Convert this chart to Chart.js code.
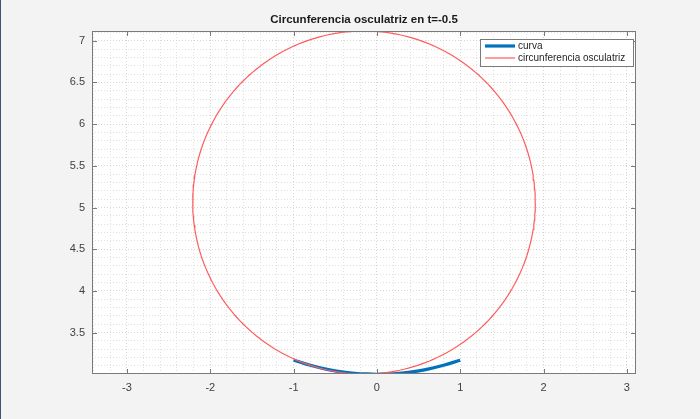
<!DOCTYPE html>
<html>
<head>
<meta charset="utf-8">
<script src="https://cdn.jsdelivr.net/npm/chart.js@4.4.1/dist/chart.umd.min.js"></script>
<style>
html,body{margin:0;padding:0;background:#f3f3f3;}
#wrap{position:relative;width:700px;height:419px;}
</style>
</head>
<body>
<div id="wrap"><canvas id="c" width="700" height="419"></canvas></div>
<script>
// ---- data ----
const titleText = "Circunferencia osculatriz en t=-0.5";
const seriesLabels = ["curva", "circunferencia osculatriz"];
const curveX = [-1, -0.8, -0.6, -0.4, -0.2, 0, 0.2, 0.4, 0.6, 0.8, 1];
const curveY = [3.172, 3.108, 3.060, 3.027, 3.007, 3.000, 3.007, 3.027, 3.060, 3.108, 3.170];
const circleCenter = [-0.155, 5.06];
const circleRadius = [2.056];
const xTickLabels = [-3, -2, -1, 0, 1, 2, 3];
const yTickLabels = [3.5, 4, 4.5, 5, 5.5, 6, 6.5, 7];
const xLimits = [-3.42, 3.11];
const yLimits = [3.004, 7.116];

// build datasets
const curvePts = curveX.map((x, i) => ({x: x, y: curveY[i]}));
const circlePts = [];
for (let k = 0; k <= 240; k++) {
  const a = 2 * Math.PI * k / 240;
  circlePts.push({x: circleCenter[0] + circleRadius[0] * Math.cos(a), y: circleCenter[1] + circleRadius[0] * Math.sin(a)});
}

const isMajorX = v => xTickLabels.some(t => Math.abs(t - v) < 1e-6);
const isMajorY = v => yTickLabels.some(t => Math.abs(t - v) < 1e-6);

const deco = {
  id: 'deco',
  beforeDraw(chart) {
    const ctx = chart.ctx;
    ctx.save();
    ctx.fillStyle = '#f3f3f3';
    ctx.fillRect(0, 0, chart.width, chart.height);
    ctx.fillStyle = '#44546e';
    ctx.fillRect(0, 0, 1, chart.height);
    const a = chart.chartArea;
    ctx.fillStyle = '#ffffff';
    ctx.fillRect(a.left, a.top, a.right - a.left, a.bottom - a.top);
    ctx.restore();
  },
  afterDraw(chart) {
    const ctx = chart.ctx;
    const a = chart.chartArea;
    const xs = chart.scales.x, ys = chart.scales.y;
    ctx.save();
    ctx.strokeStyle = '#7a7a7a';
    ctx.lineWidth = 1;
    ctx.strokeRect(Math.round(a.left) + 0.5, Math.round(a.top) + 0.5, Math.round(a.right - a.left) - 1, Math.round(a.bottom - a.top) - 1);
    ctx.beginPath();
    const tl = 5;
    xTickLabels.forEach(v => {
      const px = Math.round(xs.getPixelForValue(v)) + 0.5;
      ctx.moveTo(px, a.bottom); ctx.lineTo(px, a.bottom - tl);
      ctx.moveTo(px, a.top); ctx.lineTo(px, a.top + tl);
    });
    yTickLabels.forEach(v => {
      const py = Math.round(ys.getPixelForValue(v)) + 0.5;
      ctx.moveTo(a.left, py); ctx.lineTo(a.left + tl, py);
      ctx.moveTo(a.right, py); ctx.lineTo(a.right - tl, py);
    });
    ctx.stroke();
    // title
    ctx.fillStyle = '#1a1a1a';
    ctx.font = 'bold 11.5px "Liberation Sans", Arial, sans-serif';
    ctx.textAlign = 'center';
    ctx.textBaseline = 'middle';
    ctx.fillText(titleText, (a.left + a.right) / 2, 20);
    // legend
    const lx = 480, ly = 39, lw = 153, lh = 27;
    ctx.fillStyle = '#ffffff';
    ctx.fillRect(lx, ly, lw, lh);
    ctx.strokeStyle = '#7a7a7a';
    ctx.strokeRect(lx + 0.5, ly + 0.5, lw, lh);
    ctx.font = '10px "Liberation Sans", Arial, sans-serif';
    ctx.textAlign = 'left';
    chart.data.datasets.forEach((ds, i) => {
      const yy = ly + 7 + i * 12;
      ctx.strokeStyle = ds.borderColor;
      ctx.lineWidth = ds.borderWidth;
      ctx.beginPath();
      ctx.moveTo(lx + 5, yy); ctx.lineTo(lx + 35, yy);
      ctx.stroke();
      ctx.fillStyle = '#262626';
      ctx.fillText(ds.label, lx + 38, yy + 0.5);
    });
    ctx.restore();
  }
};

new Chart(document.getElementById('c'), {
  type: 'scatter',
  data: {
    datasets: [
      {label: seriesLabels[0], data: curvePts, showLine: true, borderColor: '#0072BD', borderWidth: 3.2, pointRadius: 0, tension: 0.4, order: 1},
      {label: seriesLabels[1], data: circlePts, showLine: true, borderColor: '#ff5c5c', borderWidth: 1.2, pointRadius: 0, tension: 0, order: 0}
    ]
  },
  options: {
    responsive: false,
    animation: false,
    devicePixelRatio: 1,
    layout: {padding: {left: 0, top: 31, right: 64, bottom: 0}},
    plugins: {legend: {display: false}, tooltip: {enabled: false}, title: {display: false}},
    scales: {
      x: {
        type: 'linear', min: xLimits[0], max: xLimits[1],
        afterFit: s => { s.height = 45; },
        border: {display: false, dash: [1, 2]},
        grid: {drawTicks: false, color: ctx => isMajorX(ctx.tick.value) ? '#d6d6d6' : '#e0e0e0', lineWidth: 1},
        ticks: {
          stepSize: 0.2, maxTicksLimit: 200, autoSkip: false, includeBounds: false, maxRotation: 0,
          padding: 7, color: '#404040', font: {family: '"Liberation Sans", Arial, sans-serif', size: 11},
          callback: v => isMajorX(v) ? String(Math.round(v)) : ''
        }
      },
      y: {
        type: 'linear', min: yLimits[0], max: yLimits[1],
        afterFit: s => { s.width = 92; },
        border: {display: false, dash: [1, 2]},
        grid: {drawTicks: false, color: ctx => isMajorY(ctx.tick.value) ? '#d6d6d6' : '#e0e0e0', lineWidth: 1},
        ticks: {
          stepSize: 0.1, maxTicksLimit: 200, autoSkip: false, includeBounds: false,
          padding: 7, color: '#404040', font: {family: '"Liberation Sans", Arial, sans-serif', size: 11},
          callback: v => isMajorY(v) ? String(Math.round(v * 2) / 2) : ''
        }
      }
    }
  },
  plugins: [deco]
});
</script>
</body>
</html>
